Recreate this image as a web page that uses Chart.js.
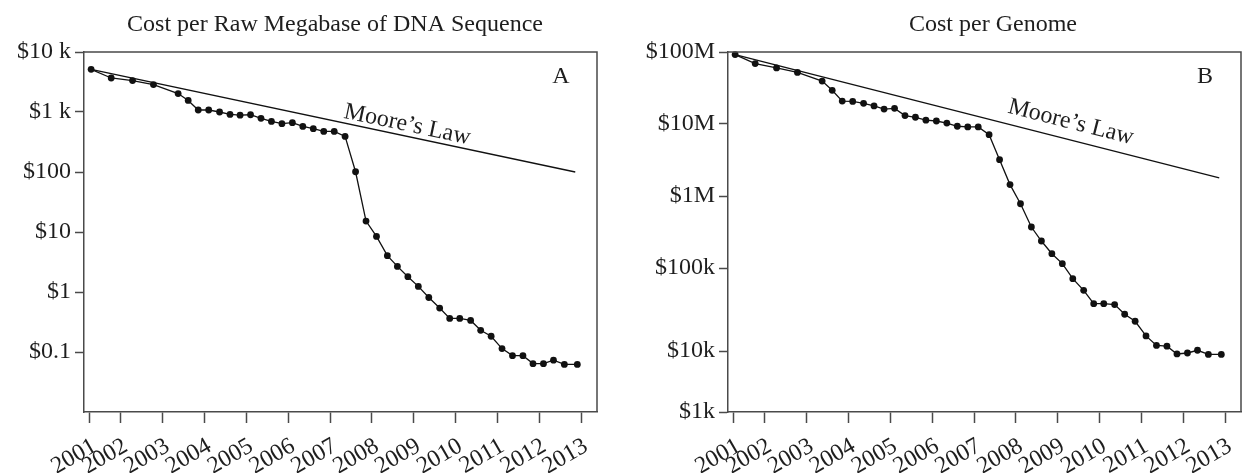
<!DOCTYPE html>
<html>
<head>
<meta charset="utf-8">
<script src="https://cdn.jsdelivr.net/npm/chart.js@4.4.0/dist/chart.umd.min.js"></script>
<style>
  html, body { margin: 0; padding: 0; background: #fff; overflow: hidden; }
  #wrap { position: relative; width: 1243px; height: 473px; overflow: hidden; }
  canvas { position: absolute; top: 0; }
  #chartA { left: 0; }
  #chartB { left: 644px; }
</style>
</head>
<body>
<div id="wrap">
  <canvas id="chartA" width="622" height="473"></canvas>
  <canvas id="chartB" width="622" height="473"></canvas>
</div>
<script>
// where each sample sits on the year axis, as drawn in the figure
var sampleYears = [2001.29, 2001.77, 2002.28, 2002.78, 2003.37, 2003.61, 2003.85,
    2004.10, 2004.36, 2004.61, 2004.85, 2005.10, 2005.35, 2005.60, 2005.85,
    2006.10, 2006.35, 2006.60, 2006.85, 2007.10, 2007.36, 2007.61, 2007.86,
    2008.11, 2008.37, 2008.61, 2008.86, 2009.11, 2009.36, 2009.62, 2009.86,
    2010.10, 2010.36, 2010.60, 2010.85, 2011.11, 2011.36, 2011.61, 2011.85,
    2012.10, 2012.34, 2012.60, 2012.91];

// panel A: cost per raw megabase ($)
var costPerMb = [5150, 3690, 3340, 2860, 2030, 1560, 1080, 1080, 1000, 910,
    885, 900, 783, 697, 638, 663, 575, 527, 475, 475,
    392, 101, 15.2, 8.45, 4.03, 2.67, 1.80, 1.24, 0.81, 0.54,
    0.363, 0.363, 0.336, 0.23, 0.183, 0.114, 0.087, 0.087, 0.064, 0.064,
    0.073, 0.062, 0.062];

// panel B: cost per genome ($)
var costPerGenome = [92e6, 69e6, 60e6, 52e6, 39.5e6, 29.4e6, 20.8e6, 20.6e6, 19.4e6, 17.8e6,
    16.1e6, 16.5e6, 13.1e6, 12.4e6, 11.3e6, 11.0e6, 10.3e6, 9.3e6, 9.1e6, 9.1e6,
    7.1e6, 3.2e6, 1.44e6, 7.8e5, 3.71e5, 2.37e5, 1.58e5, 1.15e5, 7.1e4, 4.9e4,
    3.2e4, 3.2e4, 3.1e4, 2.28e4, 1.82e4, 1.14e4, 8.4e3, 8.2e3, 6.4e3, 6.6e3,
    7.2e3, 6.3e3, 6.3e3];

// Moore's law reference lines (start and end)
var mooreYears = [2001.29, 2012.86];
var mooreMb = [5150, 100];
var mooreGenome = [92e6, 1.78e6];

var xTickYears = [2001.26, 2002, 2003, 2004, 2005, 2006, 2007, 2008, 2009, 2010, 2011, 2012, 2013];
var xTickLabels = ['2001', '2002', '2003', '2004', '2005', '2006', '2007', '2008', '2009', '2010', '2011', '2012', '2013'];

var yTicksA = [1e4, 1e3, 100, 10, 1, 0.1];
var yLabelsA = ['$10 k', '$1 k', '$100', '$10', '$1', '$0.1'];
// the figure prints its "$10k" label a little below the true decade
var yTicksB = [1e8, 1e7, 1e6, 1e5, 7e3, 1e3];
var yLabelsB = ['$100M', '$10M', '$1M', '$100k', '$10k', '$1k'];

var textColor = '#1e1e1e';
var axisColor = '#4a4a4a';
var fontFamily = "'Liberation Serif', 'Times New Roman', serif";

var panelDecor = {
    id: 'panelDecor',
    afterDraw: function (chart, args, opts) {
        var ctx = chart.ctx;
        var area = chart.chartArea;
        var xs = chart.scales.x, ys = chart.scales.y;
        ctx.save();
        // top and right frame
        ctx.strokeStyle = axisColor;
        ctx.lineWidth = 1.5;
        ctx.beginPath();
        ctx.moveTo(area.left, area.top);
        ctx.lineTo(area.right, area.top);
        ctx.lineTo(area.right, area.bottom);
        ctx.stroke();

        ctx.fillStyle = textColor;
        ctx.font = '24px ' + fontFamily;
        ctx.textAlign = 'center';
        ctx.textBaseline = 'alphabetic';
        ctx.fillText(opts.title, opts.titleX, 31);
        ctx.fillText(opts.letter, area.right - 36, area.top + 31);

        // Moore's Law label along its line
        var m = chart.data.datasets[1].data;
        var x1 = xs.getPixelForValue(m[0].x), y1 = ys.getPixelForValue(m[0].y);
        var x2 = xs.getPixelForValue(m[1].x), y2 = ys.getPixelForValue(m[1].y);
        var ang = Math.atan2(y2 - y1, x2 - x1);
        var px = xs.getPixelForValue(opts.mooreAt);
        var py = y1 + (px - x1) * (y2 - y1) / (x2 - x1);
        ctx.translate(px + Math.sin(ang) * opts.mooreGap, py - Math.cos(ang) * opts.mooreGap);
        ctx.rotate(ang);
        ctx.fillText('Moore\u2019s Law', 0, 0);
        ctx.restore();
    }
};

function makePanel(canvasId, values, moore, yMin, yMax, yTicks, yLabels, decor) {
    var points = [];
    for (var i = 0; i < values.length; i++) {
        points.push({ x: sampleYears[i], y: values[i] });
    }
    var moorePoints = [];
    for (var j = 0; j < moore.length; j++) {
        moorePoints.push({ x: mooreYears[j], y: moore[j] });
    }
    var tickFont = { family: fontFamily, size: 24 };
    return new Chart(document.getElementById(canvasId), {
        type: 'line',
        data: {
            datasets: [{
                data: points,
                borderColor: '#111',
                borderWidth: 1.3,
                pointRadius: 3.4,
                pointBackgroundColor: '#111',
                pointBorderWidth: 0,
                tension: 0,
                clip: false
            }, {
                data: moorePoints,
                borderColor: '#111',
                borderWidth: 1.3,
                pointRadius: 0,
                tension: 0,
                clip: false
            }]
        },
        options: {
            responsive: false,
            animation: false,
            layout: { padding: { top: 52, right: 25, left: 0, bottom: 0 } },
            plugins: {
                legend: { display: false },
                tooltip: { enabled: false },
                panelDecor: decor
            },
            scales: {
                x: {
                    type: 'linear',
                    min: 2001.12,
                    max: 2013.38,
                    afterBuildTicks: function (axis) {
                        axis.ticks = xTickYears.map(function (v) { return { value: v }; });
                    },
                    afterFit: function (axis) {
                        axis.height = 61;
                        axis.paddingLeft = 0;
                        axis.paddingRight = 0;
                    },
                    border: { display: true, color: axisColor, width: 1.5 },
                    grid: { drawOnChartArea: false, drawTicks: true, tickLength: 11, tickColor: axisColor, tickWidth: 1.5 },
                    ticks: {
                        autoSkip: false,
                        minRotation: 30,
                        maxRotation: 30,
                        padding: 9,
                        labelOffset: 5,
                        color: textColor,
                        font: tickFont,
                        callback: function (v, i) { return xTickLabels[i]; }
                    }
                },
                y: {
                    type: 'logarithmic',
                    min: yMin,
                    max: yMax,
                    afterBuildTicks: function (axis) {
                        axis.ticks = yTicks.map(function (v) { return { value: v }; });
                    },
                    afterFit: function (axis) {
                        axis.width = 84;
                        axis.paddingTop = 0;
                        axis.paddingBottom = 0;
                    },
                    border: { display: true, color: axisColor, width: 1.5 },
                    grid: { drawOnChartArea: false, drawTicks: true, tickLength: 9, tickColor: axisColor, tickWidth: 1.5 },
                    ticks: {
                        padding: 4,
                        color: textColor,
                        font: tickFont,
                        callback: function (v, i) { return yLabels[i]; }
                    }
                }
            }
        },
        plugins: [panelDecor]
    });
}

makePanel('chartA', costPerMb, mooreMb, 0.01, 1e4, yTicksA, yLabelsA,
    { title: 'Cost per Raw Megabase of DNA Sequence', titleX: 335, letter: 'A', mooreAt: 2008.79, mooreGap: 5 });
makePanel('chartB', costPerGenome, mooreGenome, 1e3, 1e8, yTicksB, yLabelsB,
    { title: 'Cost per Genome', titleX: 349, letter: 'B', mooreAt: 2009.21, mooreGap: 11 });
</script>
</body>
</html>
